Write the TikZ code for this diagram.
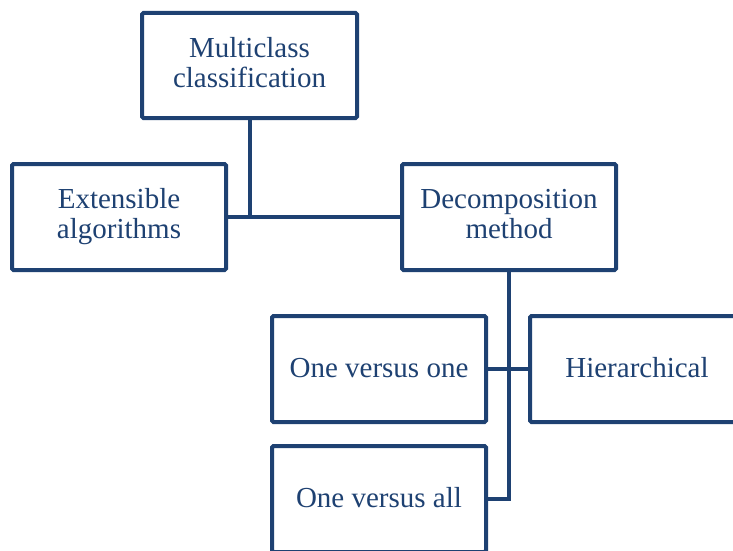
\documentclass[tikz,border=0pt]{standalone}
\usepackage{fontspec}
\setmainfont{Liberation Serif}
\definecolor{navy}{RGB}{30,65,114}
% fixed line strut so every box centres its text the same way
\newcommand{\linestrut}{\rule[-6.5pt]{0pt}{30pt}}
\begin{document}
\begin{tikzpicture}[x=1pt,y=-1pt,
  box/.style={draw=navy, line width=4pt, rounded corners=1.5pt, fill=white,
    minimum width=214pt, minimum height=106pt, inner sep=0pt,
    text=navy, align=center, font=\fontsize{29}{30}\selectfont,
    execute at begin node=\linestrut, execute at end node=\linestrut},
  link/.style={draw=navy, line width=4pt}]
\useasboundingbox (0,0) rectangle (733,551);
\clip (0,0) rectangle (733,551);
% boxes
\node[box, minimum width=215pt, minimum height=105pt] (mc) at (249.5,65.5) {Multiclass\\classification};
\node[box] (ea) at (119,217) {Extensible\\algorithms};
\node[box] (dm) at (509,217) {Decomposition\\method};
\node[box] (ovo) at (379,369) {One versus one};
\node[box] (hi) at (637,369) {Hierarchical};
\node[box] (ova) at (379,499) {One versus all};
% connectors
\draw[link] (ea.east) -- (dm.west);
\draw[link] (mc.south) -- (mc.south |- ea.east);
\draw[link] (ovo.east) -- (hi.west);
\draw[link] (dm.south) -- (dm.south |- ova.east) -- (ova.east);
\end{tikzpicture}
\end{document}
